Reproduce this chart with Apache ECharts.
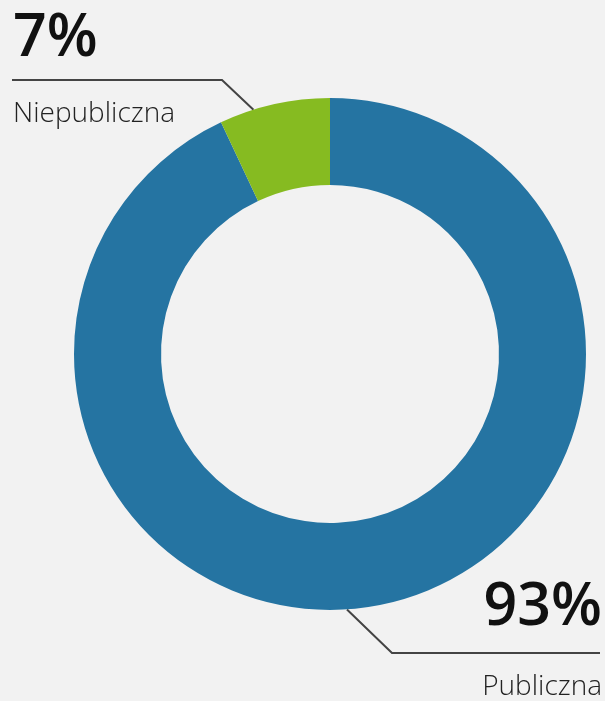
<!DOCTYPE html>
<html><head><meta charset="utf-8">
<script src="https://cdn.jsdelivr.net/npm/echarts@6/dist/echarts.min.js"></script>
<style>html,body{margin:0;padding:0;background:#f2f2f2}#c{width:605px;height:701px}</style>
</head><body><div id="c"></div>
<script>
const categories = ['Publiczna', 'Niepubliczna'];
const values = [93, 7];
const colors = ['#2574a2', '#86bb21'];

const chart = echarts.init(document.getElementById('c'), null, {renderer: 'canvas'});
const CX = 330, CY = 354, R0 = 169, R1 = 256;
function edge(deg) { // degrees clockwise from 12 o'clock
  const a = deg * Math.PI / 180;
  return [CX + R1 * Math.sin(a), CY - R1 * Math.cos(a)];
}
const layouts = [
  {x: 602, y: 570, align: 'right', gap: 38, pts: [edge(176.2), [392, 653], [600, 653]]},
  {x: 13, y: 1, align: 'left', gap: 31, pts: [edge(342.6), [222, 80], [12, 80]]}
];
const pStyle = {fontFamily: 'Open Sans', fontWeight: 600, fontSize: 59, color: '#111', lineHeight: 76};
const nStyle = {fontFamily: 'Open Sans', fontWeight: 300, fontSize: 28, color: '#222', lineHeight: 44};
chart.setOption({
  backgroundColor: '#f2f2f2',
  animation: false,
  series: [{
    type: 'pie',
    center: [CX, CY],
    radius: [R0, R1],
    startAngle: 90,
    clockwise: true,
    data: categories.map((c, i) => ({
      name: c, value: values[i], itemStyle: {color: colors[i]},
      label: {rich: {p: pStyle, n: Object.assign({}, nStyle, {padding: [layouts[i].gap, 0, 0, 0]})}}
    })),
    label: {
      show: true,
      formatter: p => '{p|' + p.value + '%}\n{n|' + p.name + '}'
    },
    labelLine: {show: true, lineStyle: {color: '#444', width: 2}},
    labelLayout: p => {
      const L = layouts[p.dataIndex];
      return {x: L.x, y: L.y, align: L.align, verticalAlign: 'top', labelLinePoints: L.pts};
    }
  }]
});
</script></body></html>
